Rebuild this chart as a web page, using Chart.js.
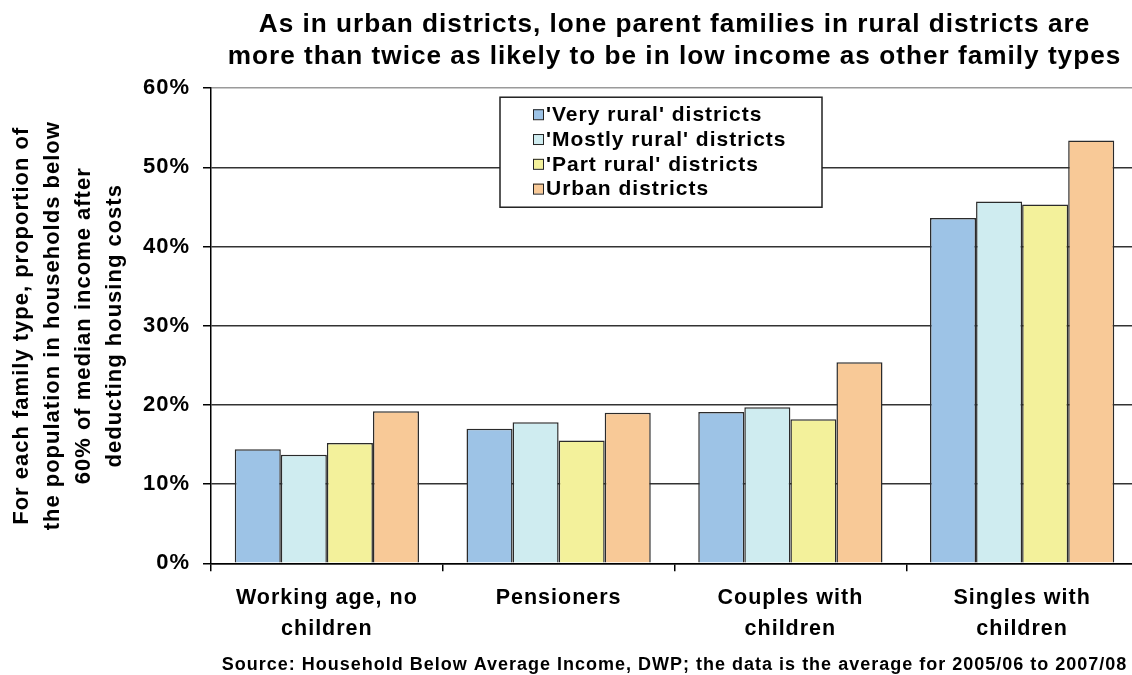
<!DOCTYPE html>
<html><head><meta charset="utf-8">
<script src="https://cdn.jsdelivr.net/npm/chart.js@4.4.1/dist/chart.umd.min.js"></script>
<style>
html,body{margin:0;padding:0;background:#fff;overflow:hidden;}
#wrap{position:relative;width:1140px;height:675px;}
</style></head><body>
<div id="wrap"><canvas id="c"></canvas></div>
<script>
const categories = [['Working age, no','children'],['Pensioners'],['Couples with','children'],['Singles with','children']];
const seriesNames = ["'Very rural' districts","'Mostly rural' districts","'Part rural' districts","Urban districts"];
const veryRural = [14.4, 17.0, 19.1, 43.6];
const mostlyRural = [13.7, 17.8, 19.7, 45.7];
const partRural = [15.2, 15.5, 18.2, 45.3];
const urban = [19.2, 19.0, 25.4, 53.4];
const yMin = 0, yMax = 60, yStep = 10;
const titleLines = ['As in urban districts, lone parent families in rural districts are','more than twice as likely to be in low income as other family types'];
const yTitleLines = ['For each family type, proportion of','the population in households below','60% of median income after','deducting housing costs'];
const sourceText = 'Source: Household Below Average Income, DWP; the data is the average for 2005/06 to 2007/08';
const colors = ['#9dc3e6','#cfecf0','#f3f19b','#f8c997'];

const FONT = '"Liberation Sans", Arial, Helvetica, sans-serif';
Chart.defaults.font.family = FONT;
Chart.defaults.color = '#000';

const spacing = {
  id: 'spacing',
  beforeUpdate(chart) { chart.ctx.letterSpacing = '1px'; },
  beforeLayout(chart) { chart.ctx.letterSpacing = '1px'; },
  beforeDraw(chart) { chart.ctx.letterSpacing = '1px'; }
};

const boxLegend = {
  id: 'boxLegend',
  afterDraw(chart) {
    const {ctx, chartArea} = chart;
    const x = chartArea.left + 289, y = chartArea.top + 9, w = 322, h = 110;
    ctx.save();
    ctx.fillStyle = '#fff';
    ctx.fillRect(x, y, w, h);
    ctx.strokeStyle = '#222';
    ctx.lineWidth = 1.5;
    ctx.strokeRect(x, y, w, h);
    ctx.font = 'bold 21px ' + FONT;
    ctx.textBaseline = 'middle';
    ctx.textAlign = 'left';
    chart.data.datasets.forEach((ds, i) => {
      const cy = y + 17 + i * 24.8;
      ctx.fillStyle = ds.backgroundColor;
      ctx.fillRect(x + 33, cy - 5, 10, 10);
      ctx.strokeStyle = '#222';
      ctx.lineWidth = 1;
      ctx.strokeRect(x + 33.5, cy - 4.5, 10, 10);
      ctx.fillStyle = '#000';
      ctx.fillText(ds.label, x + 46, cy + 1);
    });
    ctx.restore();
  }
};

const seriesData = [veryRural, mostlyRural, partRural, urban];

new Chart(document.getElementById('c'), {
  type: 'bar',
  data: {
    labels: categories,
    datasets: seriesData.map((d, i) => ({
      label: seriesNames[i],
      data: d,
      backgroundColor: colors[i],
      borderColor: '#2b2b2b',
      borderWidth: 1.5,
      barPercentage: 1,
      categoryPercentage: 0.795
    }))
  },
  options: {
    responsive: true,
    maintainAspectRatio: false,
    animation: false,
    layout: { padding: { left: 0, right: 2, top: 0, bottom: 0 } },
    plugins: {
      legend: { display: false },
      tooltip: { enabled: false },
      title: {
        display: true,
        text: titleLines,
        fullSize: false,
        color: '#000',
        font: { size: 26.2, weight: 'bold', lineHeight: 1.22 },
        padding: { top: 9, bottom: 15.3 }
      },
      subtitle: {
        display: true,
        position: 'bottom',
        text: sourceText,
        fullSize: false,
        color: '#000',
        font: { size: 18, weight: 'bold', lineHeight: 1.1 },
        padding: { top: 9.4, bottom: 0.5 }
      }
    },
    scales: {
      x: {
        afterFit(scale) { scale.height = 82; },
        grid: { display: true, drawOnChartArea: false, drawTicks: true, tickLength: 8, color: '#000', lineWidth: 1.5, offset: true },
        border: { display: true, color: '#000', width: 1.5 },
        ticks: { color: '#000', padding: 12, font: { size: 21.5, weight: 'bold', lineHeight: 1.42 }, maxRotation: 0, autoSkip: false }
      },
      y: {
        min: yMin, max: yMax,
        afterFit(scale) { scale.width = 211; },
        grid: {
          color: (c) => (c.tick && c.tick.value === yMax) ? '#9a9a9a' : '#333',
          lineWidth: 1.5, tickLength: 8, tickColor: '#000', drawTicks: true
        },
        border: { display: true, color: '#000', width: 1.5 },
        ticks: { stepSize: yStep, color: '#000', padding: 13, font: { size: 22, weight: 'bold' }, callback: (v) => v + '%' },
        title: {
          display: true,
          text: yTitleLines,
          color: '#000',
          font: { size: 22, weight: 'bold', lineHeight: 1.41 },
          padding: { top: 6, bottom: 0 }
        }
      }
    }
  },
  plugins: [spacing, boxLegend]
});
</script>
</body></html>
